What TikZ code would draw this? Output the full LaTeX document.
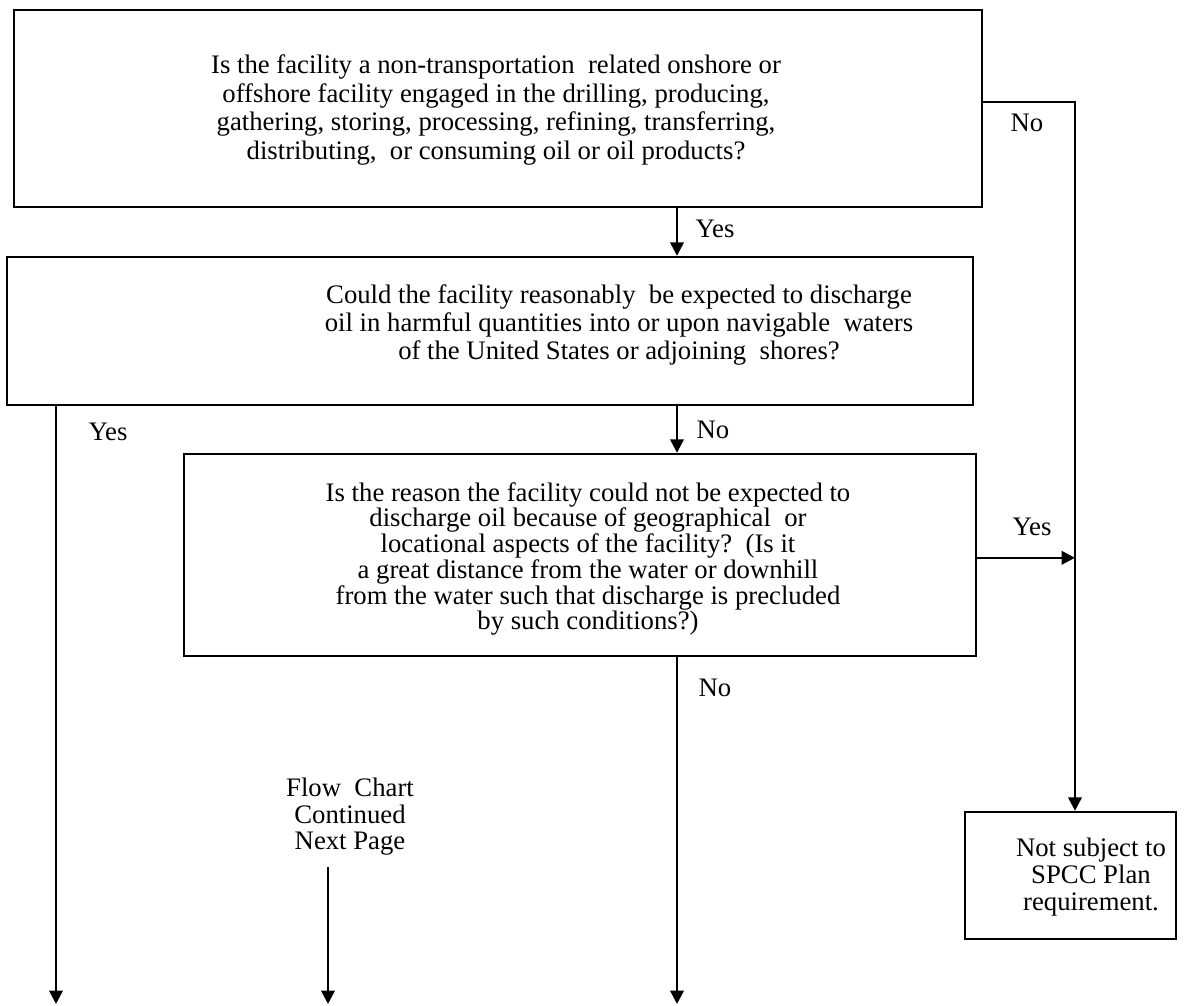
\documentclass[tikz,border=0pt]{standalone}
\usepackage{fontspec}
\setmainfont{Liberation Serif}
\usetikzlibrary{arrows.meta,fit}

\begin{document}
\begin{tikzpicture}[x=0.025cm, y=-0.025cm, line width=1.7pt,
  box/.style={draw, rectangle, inner sep=0pt},
  txt/.style={align=center, font=\fontsize{19}{#1}\selectfont},
  txt/.default=19.5,
  lbl/.style={font=\fontsize{19}{20}\selectfont},
  arr/.style={-{Triangle[length=9.5pt,width=9.5pt]}}]
\useasboundingbox (0,0) rectangle (1184,1006);

% question boxes
\node[box, fit={(14,10) (982,207)}] (q1) {};
\node[box, fit={(7,257) (973,405)}] (q2) {};
\node[box, fit={(184,454) (976,656)}] (q3) {};
\node[box, fit={(965,812) (1176,939)}] (nsp) {};

\node[txt=20.3] (q1txt) at (496,110) {Is the facility a non-transportation\ \ related onshore or\\
  offshore facility engaged in the drilling, producing,\\
  gathering, storing, processing, refining, transferring,\\
  distributing,\ \ or consuming oil or oil products?};
\node[txt=19.6] (q2txt) at (619,325) {Could the facility reasonably\ \ be expected to discharge\\
  oil in harmful quantities into or upon navigable\ \ waters\\
  of the United States or adjoining\ \ shores?};
\node[txt=18.3] (q3txt) at (588,559) {Is the reason the facility could not be expected to\\
  discharge oil because of geographical\ \ or\\
  locational aspects of the facility?\ \ (Is it\\
  a great distance from the water or downhill\\
  from the water such that discharge is precluded\\
  by such conditions?)};
\node[txt=18.9] (nsptxt) at (1091,877) {Not subject to\\ SPCC Plan\\ requirement.};
\node[txt=18.9] (flow) at (350,817) {Flow\ \ Chart\\ Continued\\ Next Page};

% connectors
\coordinate (mid) at (677,0);
\coordinate (rail) at (1075,102);
\coordinate (endA) at (56,1004);
\coordinate (endB) at (328,1004);
\coordinate (endC) at (677,1004);

\draw[arr] (mid |- q1.south) -- (mid |- q2.north);
\draw[arr] (mid |- q2.south) -- (mid |- q3.north);
\draw[arr] (mid |- q3.south) -- (endC);
\draw[arr] (endA |- q2.south) -- (endA);
\draw[arr] ([yshift=-4pt]endB |- flow.south) -- (endB);
\draw[arr] (q1.east |- rail) -- (rail) -- (rail |- nsp.north);
\draw[arr] ([yshift=-2pt]q3.east) -- ([yshift=-2pt]q3.east -| rail);

% answers
\node[lbl] (yes1) at (715,229) {Yes};
\node[lbl] (no1) at (1027,123) {No};
\node[lbl] (yes2) at (108,432) {Yes};
\node[lbl] (no2) at (713,430) {No};
\node[lbl] (yes3) at (1032,527) {Yes};
\node[lbl] (no3) at (715,688) {No};
\end{tikzpicture}
\end{document}
